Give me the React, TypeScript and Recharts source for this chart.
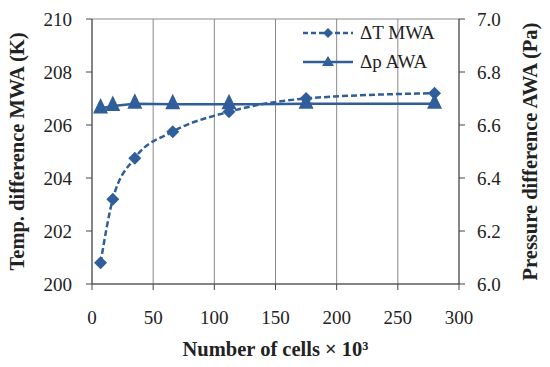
import React from 'react';
import { LineChart, Line, XAxis, YAxis, CartesianGrid, Legend } from 'recharts';

const cells = [7, 17, 35, 66, 112, 175, 280];
const deltaT = [200.8, 203.2, 204.75, 205.75, 206.5, 207.0, 207.2];
const deltaP = [6.662, 6.672, 6.68, 6.678, 6.678, 6.68, 6.68];
const xTicks = [0, 50, 100, 150, 200, 250, 300];
const leftTicks = [200, 202, 204, 206, 208, 210];
const rightTicks = [6.0, 6.2, 6.4, 6.6, 6.8, 7.0];

const data = cells.map((c, i) => ({ cells: c, dT: deltaT[i], dp: deltaP[i] }));

const COLOR = '#2F5E9B';
const FONT = '"Liberation Serif", "DejaVu Serif", serif';
const TITLE_SIZE = 20.5;

const Diamond = (props: any) => {
  const { cx, cy } = props;
  if (cx == null || cy == null) return null;
  const r = 6.5;
  return <path d={`M${cx},${cy - r}L${cx + r},${cy}L${cx},${cy + r}L${cx - r},${cy}Z`} fill={COLOR} />;
};

const Triangle = (props: any) => {
  const { cx, cy } = props;
  if (cx == null || cy == null) return null;
  return <path d={`M${cx},${cy - 10.5}L${cx + 7.5},${cy + 5}L${cx - 7.5},${cy + 5}Z`} fill={COLOR} />;
};

const LegendContent = () => (
  <div style={{ fontFamily: FONT, fontSize: 19, color: '#222', lineHeight: 1 }}>
    <div style={{ display: 'flex', alignItems: 'center', height: 29 }}>
      <svg width={52} height={14}>
        <line x1={1} y1={7} x2={51} y2={7} stroke={COLOR} strokeWidth={2.5} strokeDasharray="5 3" />
        <path d="M26,2L31,7L26,12L21,7Z" fill={COLOR} />
      </svg>
      <span style={{ marginLeft: 6 }}>ΔT MWA</span>
    </div>
    <div style={{ display: 'flex', alignItems: 'center', height: 29 }}>
      <svg width={52} height={14}>
        <line x1={1} y1={7} x2={51} y2={7} stroke={COLOR} strokeWidth={2.5} />
        <path d="M26,1L32,11L20,11Z" fill={COLOR} />
      </svg>
      <span style={{ marginLeft: 6 }}>Δp AWA</span>
    </div>
  </div>
);

const LeftLabel = (props: any) => {
  const { viewBox } = props;
  const cx = 17;
  const cy = viewBox.y + viewBox.height / 2;
  return (
    <text x={cx} y={cy} transform={`rotate(-90 ${cx} ${cy})`} textAnchor="middle" dominantBaseline="central"
      style={{ fontFamily: FONT, fontSize: TITLE_SIZE, fontWeight: 'bold', fill: '#222' }}>
      Temp. difference MWA  (K)
    </text>
  );
};

const RightLabel = (props: any) => {
  const { viewBox } = props;
  const cx = 530;
  const cy = viewBox.y + viewBox.height / 2;
  return (
    <text x={cx} y={cy} transform={`rotate(-90 ${cx} ${cy})`} textAnchor="middle" dominantBaseline="central"
      style={{ fontFamily: FONT, fontSize: TITLE_SIZE, fontWeight: 'bold', fill: '#222' }}>
      Pressure difference AWA  (Pa)
    </text>
  );
};

const BottomLabel = (props: any) => {
  const { viewBox } = props;
  const cx = viewBox.x + viewBox.width / 2;
  return (
    <text x={cx} y={349} textAnchor="middle" dominantBaseline="central"
      style={{ fontFamily: FONT, fontSize: TITLE_SIZE, fontWeight: 'bold', fill: '#222' }}>
      Number of cells × 10³
    </text>
  );
};

const tickStyle = { fontFamily: FONT, fontSize: 19, fill: '#222' };

export default function App() {
  return (
    <div style={{ position: 'absolute', left: 0, top: 0, width: 550, height: 367, background: '#fff' }}>
      <LineChart width={550} height={367} data={data} margin={{ top: 19, right: 0, bottom: 0, left: 0 }}>
        <CartesianGrid stroke="#8a8a8a" strokeWidth={1} />
        <XAxis dataKey="cells" type="number" domain={[0, 300]} ticks={xTicks} height={83}
          stroke="#444" tickSize={6} tickMargin={21} tick={tickStyle} label={<BottomLabel />} />
        <YAxis yAxisId="left" domain={[200, 210]} ticks={leftTicks} width={92} stroke="#444"
          tickSize={6} tickMargin={14} tick={tickStyle} label={<LeftLabel />} />
        <YAxis yAxisId="right" orientation="right" domain={[6.0, 7.0]} ticks={rightTicks} width={91}
          stroke="#444" tickSize={6} tickMargin={12} tick={tickStyle}
          tickFormatter={(v: number) => v.toFixed(1)} label={<RightLabel />} />
        <Legend content={<LegendContent />} layout="vertical" verticalAlign="middle" align="center"
          wrapperStyle={{ position: 'absolute', top: 18, left: 302, width: 160 }} />
        <Line yAxisId="left" dataKey="dT" stroke={COLOR} strokeWidth={2.5} strokeDasharray="6 3"
          dot={<Diamond />} activeDot={false} isAnimationActive={false} type="monotone" />
        <Line yAxisId="right" dataKey="dp" stroke={COLOR} strokeWidth={2.5}
          dot={<Triangle />} activeDot={false} isAnimationActive={false} type="linear" />
      </LineChart>
    </div>
  );
}
